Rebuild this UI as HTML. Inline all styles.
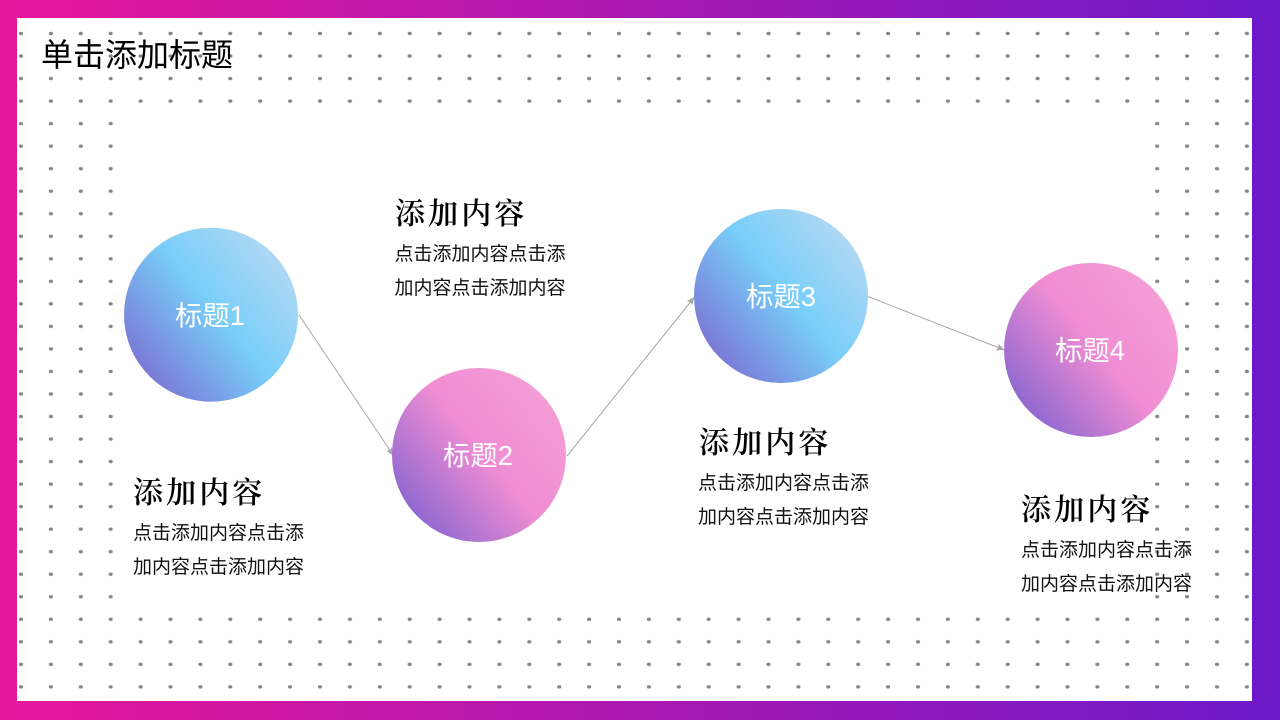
<!DOCTYPE html>
<html lang="zh">
<head>
<meta charset="utf-8">
<title>单击添加标题</title>
<style>
html,body{margin:0;padding:0;width:1280px;height:720px;overflow:hidden;background:#fff}
svg{display:block}
.t{font-family:"Liberation Sans","Noto Sans CJK SC",sans-serif}
.title{font-size:32px;fill:#000;font-weight:400}
.h{font-family:"Liberation Serif","Noto Serif CJK SC",serif;font-size:30px;fill:#000;letter-spacing:3.1px;font-weight:600}
.b{font-size:19px;fill:#111}
.l{font-size:27.4px;fill:#fff;text-anchor:middle}
</style>
</head>
<body>
<svg width="1280" height="720" viewBox="0 0 1280 720" xmlns="http://www.w3.org/2000/svg">
<defs>
<linearGradient id="bg" x1="0" y1="0" x2="1" y2="0">
<stop offset="0" stop-color="#e8179b"/><stop offset="1" stop-color="#6c19c9"/>
</linearGradient>
<linearGradient id="blue" x1="0.1" y1="0.825" x2="0.9" y2="0.175">
<stop offset="0" stop-color="#7a78d6"/><stop offset="0.53" stop-color="#78cef9"/><stop offset="1" stop-color="#b0d8f3"/>
</linearGradient>
<linearGradient id="pink" x1="0.1" y1="0.825" x2="0.9" y2="0.175">
<stop offset="0" stop-color="#8f68cf"/><stop offset="0.53" stop-color="#f08dd4"/><stop offset="1" stop-color="#f49dd6"/>
</linearGradient>
<pattern id="dots" x="6" y="22.25" width="29.9" height="22.53" patternUnits="userSpaceOnUse">
<ellipse cx="15" cy="11.25" rx="2.1" ry="1.7" fill="#858585"/>
</pattern>
<marker id="arr" markerWidth="9" markerHeight="7" refX="8" refY="3.5" orient="auto" markerUnits="userSpaceOnUse">
<path d="M0,0 L8,3.5 L0,7 L1.6,3.5 Z" fill="#a6a6a6"/>
</marker>
</defs>
<rect width="1280" height="720" fill="url(#bg)"/>
<rect x="17" y="18" width="1235" height="683" fill="#fff"/>
<rect x="17" y="18" width="1235" height="94" fill="url(#dots)"/>
<rect x="17" y="112" width="105" height="495" fill="url(#dots)"/>
<rect x="1144" y="112" width="108" height="495" fill="url(#dots)"/>
<rect x="17" y="608" width="1235" height="93" fill="url(#dots)"/>

<line x1="299" y1="315" x2="393.5" y2="455.5" stroke="#a6a6a6" stroke-width="1" marker-end="url(#arr)"/>
<line x1="567" y1="456" x2="694.5" y2="297" stroke="#a6a6a6" stroke-width="1" marker-end="url(#arr)"/>
<line x1="868" y1="296.5" x2="1004.5" y2="350" stroke="#a6a6a6" stroke-width="1" marker-end="url(#arr)"/>

<circle cx="211" cy="314.7" r="87" fill="url(#blue)"/>
<circle cx="479" cy="455" r="87" fill="url(#pink)"/>
<circle cx="781" cy="296" r="87" fill="url(#blue)"/>
<circle cx="1091" cy="350" r="87" fill="url(#pink)"/>

<text class="t title" x="41" y="66">单击添加标题</text>

<text class="t l" x="210" y="325">标题1</text>
<text class="t l" x="478" y="465">标题2</text>
<text class="t l" x="781" y="306">标题3</text>
<text class="t l" x="1090" y="360">标题4</text>

<text class="h" x="395" y="224">添加内容</text>
<text class="t b" x="394.5" y="260">点击添加内容点击添</text>
<text class="t b" x="394.5" y="294">加内容点击添加内容</text>

<text class="h" x="133" y="503">添加内容</text>
<text class="t b" x="133" y="539">点击添加内容点击添</text>
<text class="t b" x="133" y="573">加内容点击添加内容</text>

<text class="h" x="699" y="453">添加内容</text>
<text class="t b" x="698" y="489">点击添加内容点击添</text>
<text class="t b" x="698" y="523">加内容点击添加内容</text>

<text class="h" x="1021" y="520">添加内容</text>
<text class="t b" x="1021" y="556">点击添加内容点击添</text>
<text class="t b" x="1021" y="590">加内容点击添加内容</text>
</svg>
</body>
</html>
